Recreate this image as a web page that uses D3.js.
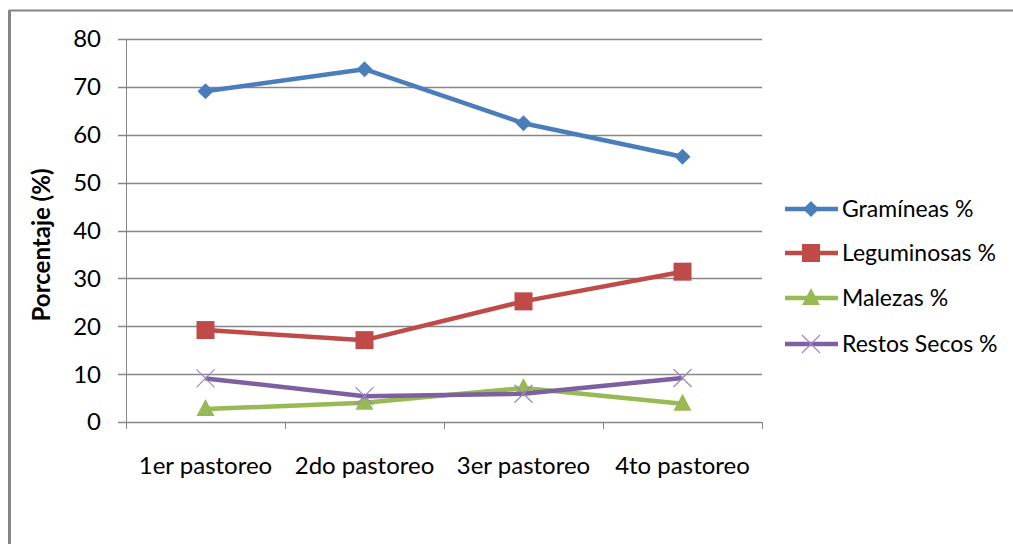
<!DOCTYPE html>
<html>
<head>
<meta charset="utf-8">
<script src="https://cdn.jsdelivr.net/npm/d3@7"></script>
<style>
  body { margin: 0; background: #fff; }
  text { font-family: Lato, "Open Sans", sans-serif; fill: #000; }
</style>
</head>
<body>
<div id="chart"></div>
<script>
// data
var categories = ["1er pastoreo", "2do pastoreo", "3er pastoreo", "4to pastoreo"];
var seriesNames = ["Gramíneas %", "Leguminosas %", "Malezas %", "Restos Secos %"];
var gramineas = [69.1, 73.7, 62.4, 55.4];
var leguminosas = [19.2, 17.1, 25.2, 31.4];
var malezas = [2.7, 4.0, 7.1, 3.8];
var restosSecos = [9.1, 5.4, 5.9, 9.2];
var yTicks = [0, 10, 20, 30, 40, 50, 60, 70, 80];

var colors = ["#4a7ebb", "#be4b48", "#98b954", "#7d60a0"];
var markers = ["diamond", "square", "triangle", "cross"];
var allSeries = [gramineas, leguminosas, malezas, restosSecos];

var svgWidth = 1013;
var svgHeight = 544;

var svg = d3.select("#chart")
  .append("svg")
  .attr("width", svgWidth)
  .attr("height", svgHeight);

// outer frame (top and left edges only visible)
svg.append("line")
  .attr("x1", 9).attr("x2", svgWidth).attr("y1", 10.5).attr("y2", 10.5)
  .attr("stroke", "#868686").attr("stroke-width", 2);
svg.append("line")
  .attr("x1", 9.5).attr("x2", 9.5).attr("y1", 10).attr("y2", svgHeight)
  .attr("stroke", "#868686").attr("stroke-width", 3);

var plotLeft = 126, plotRight = 762, plotTop = 39, plotBottom = 422;

var x = d3.scaleBand()
  .domain(categories)
  .range([plotLeft, plotRight]);

var y = d3.scaleLinear()
  .domain([0, 80])
  .range([plotBottom, plotTop]);

// gridlines
svg.append("g")
  .selectAll("line")
  .data(yTicks)
  .enter()
  .append("line")
  .attr("x1", plotLeft - 8)
  .attr("x2", plotRight)
  .attr("y1", d => Math.round(y(d)) + 0.5)
  .attr("y2", d => Math.round(y(d)) + 0.5)
  .attr("stroke", "#868686")
  .attr("stroke-width", 1.3);

// y axis line
svg.append("line")
  .attr("x1", plotLeft + 0.5).attr("x2", plotLeft + 0.5)
  .attr("y1", plotTop).attr("y2", plotBottom)
  .attr("stroke", "#868686");

// x axis ticks
var xTickPos = categories.map(c => x(c)).concat([plotRight]);
svg.append("g")
  .selectAll("line")
  .data(xTickPos)
  .enter()
  .append("line")
  .attr("x1", d => Math.round(d) + 0.5)
  .attr("x2", d => Math.round(d) + 0.5)
  .attr("y1", plotBottom)
  .attr("y2", plotBottom + 7)
  .attr("stroke", "#868686");

// y tick labels
svg.append("g")
  .selectAll("text")
  .data(yTicks)
  .enter()
  .append("text")
  .attr("x", 101)
  .attr("y", d => y(d))
  .attr("dy", "0.35em")
  .attr("text-anchor", "end")
  .attr("font-size", "24px")
  .text(d => d);

// x labels
svg.append("g")
  .selectAll("text")
  .data(categories)
  .enter()
  .append("text")
  .attr("x", d => x(d) + x.bandwidth() / 2)
  .attr("y", 474)
  .attr("text-anchor", "middle")
  .attr("font-size", "24px")
  .text(d => d);

// y axis title
svg.append("text")
  .attr("transform", "translate(50, 245) rotate(-90)")
  .attr("text-anchor", "middle")
  .attr("font-size", "24px")
  .attr("font-weight", "bold")
  .text("Porcentaje (%)");

function drawMarker(g, type, cx, cy, color) {
  if (type === "diamond") {
    g.append("path")
      .attr("d", `M${cx},${cy - 8}L${cx + 8},${cy}L${cx},${cy + 8}L${cx - 8},${cy}Z`)
      .attr("fill", color);
  } else if (type === "square") {
    g.append("rect")
      .attr("x", cx - 9).attr("y", cy - 9)
      .attr("width", 18).attr("height", 18)
      .attr("fill", color);
  } else if (type === "triangle") {
    g.append("path")
      .attr("d", `M${cx},${cy - 10}L${cx + 9},${cy + 7}L${cx - 9},${cy + 7}Z`)
      .attr("fill", color);
  } else {
    g.append("path")
      .attr("d", `M${cx - 9},${cy - 9}L${cx + 9},${cy + 9}M${cx - 9},${cy + 9}L${cx + 9},${cy - 9}`)
      .attr("stroke", "#9b86c0")
      .attr("stroke-width", 1.2)
      .attr("fill", "none");
  }
}

var line = d3.line()
  .x((d, i) => x(categories[i]) + x.bandwidth() / 2)
  .y(d => y(d));

allSeries.forEach(function(values, s) {
  var g = svg.append("g");
  g.append("path")
    .datum(values)
    .attr("d", line)
    .attr("fill", "none")
    .attr("stroke", colors[s])
    .attr("stroke-width", 4.5)
    .attr("stroke-linejoin", "round");
  values.forEach(function(v, i) {
    drawMarker(g, markers[s], x(categories[i]) + x.bandwidth() / 2, y(v), colors[s]);
  });
});

// legend
var legendY = [209, 253, 298, 344];
seriesNames.forEach(function(name, s) {
  var g = svg.append("g");
  g.append("line")
    .attr("x1", 785).attr("x2", 838)
    .attr("y1", legendY[s]).attr("y2", legendY[s])
    .attr("stroke", colors[s])
    .attr("stroke-width", 4.5);
  drawMarker(g, markers[s], 811, legendY[s], colors[s]);
  g.append("text")
    .attr("x", 842)
    .attr("y", legendY[s])
    .attr("dy", "0.35em")
    .attr("font-size", "23px")
    .text(name);
});
</script>
</body>
</html>
